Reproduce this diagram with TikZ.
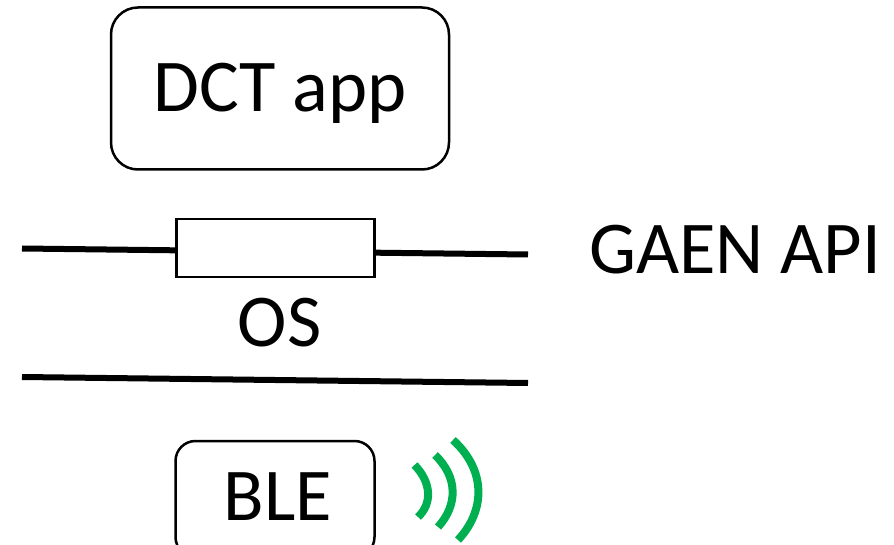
\documentclass[tikz,border=0pt]{standalone}
\usepackage{fontspec}
\setmainfont{Carlito}
\tikzset{
    label text/.style={font=\fontsize{74.5}{74.5}\selectfont, inner sep=0pt, text=black},
    app box/.style={draw, line width=2.5pt, rounded corners=27pt, fill=white, inner sep=0pt},
    layer line/.style={line width=6pt},
    wave/.style={draw=wavegreen, line width=8pt}
}
\definecolor{wavegreen}{RGB}{0,176,80}
\begin{document}
\begin{tikzpicture}[x=1pt, y=-1pt]
            \useasboundingbox (0, 0) rectangle (894, 545);
            \node[app box, minimum width=338pt, minimum height=162pt] (app) at (280, 88.5) {};
            \node[label text] (apptext) at (280, 93) {DCT app};
            \coordinate (apileft) at (22, 248.5);
            \coordinate (apiright) at (528, 254.5);
            \coordinate (osleft) at (22, 377);
            \coordinate (osright) at (528, 383);
            \draw[layer line] (apileft) -- (apiright);
            \draw[layer line] (osleft) -- (osright);
            \node[draw, line width=2.5pt, fill=white, minimum width=198pt, minimum height=58pt, inner sep=0pt] (api) at (275.5, 248) {};
            \node[label text] (apitext) at (735, 250) {GAEN API};
            \node[label text] (ostext) at (279.5, 323) {OS};
            \node[app box, rounded corners=20pt, minimum width=199pt, minimum height=116pt] (ble) at (275, 499) {};
            \node[label text] (bletext) at (278, 497) {BLE};
            \draw[wave] (414.5, 465) .. controls (432, 483) and (432, 504) .. (418, 517);
            \draw[wave] (435, 455) .. controls (458, 477) and (458, 505) .. (438, 527);
            \draw[wave] (453, 440) .. controls (486, 470) and (486, 510) .. (458, 540);
        \end{tikzpicture}
\end{document}
